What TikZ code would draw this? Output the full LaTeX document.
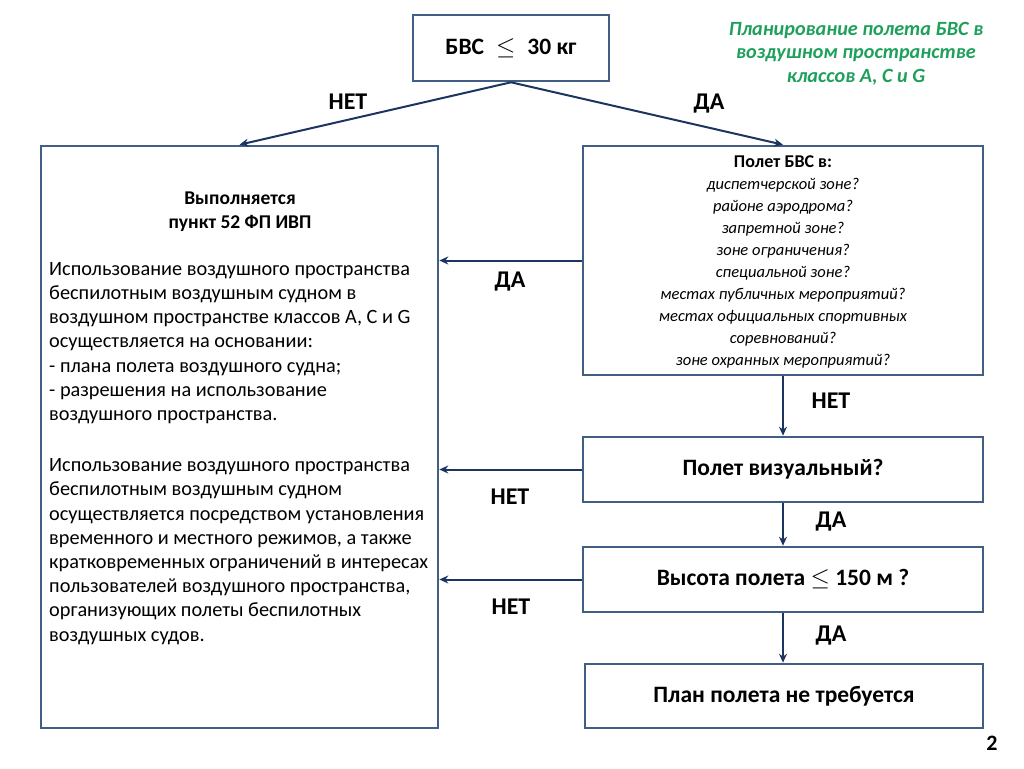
\documentclass[tikz,border=0pt]{standalone}
\usepackage{fontspec}
\setmainfont{Carlito}
\usepackage{tikz}
\usetikzlibrary{arrows.meta}

\definecolor{boxline}{RGB}{66,94,132}
\definecolor{arrowline}{RGB}{28,52,96}
\definecolor{titlegreen}{RGB}{30,160,92}

\newcommand{\bigleq}{{\fontsize{27}{27}\selectfont$\leq$}}

\tikzset{
  box/.style={draw=boxline, line width=2.6pt, fill=white, inner sep=0pt},
  boxfont/.style={font=\fontsize{23.5}{26}\selectfont\bfseries},
  flow/.style={draw=arrowline, line width=2pt, -{Stealth[length=9pt,width=8pt]}},
  answer/.style={font=\fontsize{24}{26}\selectfont\bfseries},
}

\begin{document}
\begin{tikzpicture}[x=1pt,y=-1pt]
\useasboundingbox (0,0) rectangle (1024,768);

% Title
\node[text=titlegreen, align=center, font=\fontsize{20.2}{23.5}\selectfont\bfseries\itshape] (title) at (856,53.5)
  {Планирование полета БВС в\\ воздушном пространстве\\ классов А, С и G};

% Start
\node[box, boxfont, minimum width=196pt, minimum height=66pt] (mass) at (511,48)
  {БВС\hspace*{12pt}\bigleq\hspace*{12pt}30 кг};

% Left box
\node[box, minimum width=397pt, minimum height=582pt] (rule) at (239.5,437) {};
\node[align=center, font=\fontsize{19.5}{24}\selectfont\bfseries] (ruletitle) at (240,212)
  {Выполняется\\ пункт 52 ФП ИВП};
\node[anchor=north west, align=left, inner sep=0pt, font=\fontsize{20.3}{24.2}\selectfont] (ruletext) at (49,262)
  {Использование воздушного пространства\\
   беспилотным воздушным судном в\\
   воздушном пространстве классов А, С и G\\
   осуществляется на основании:\\
   - плана полета воздушного судна;\\
   - разрешения на использование\\
   воздушного пространства.\\[27pt]
   Использование воздушного пространства\\
   беспилотным воздушным судном\\
   осуществляется посредством установления\\
   временного и местного режимов, а также\\
   кратковременных ограничений в интересах\\
   пользователей воздушного пространства,\\
   организующих полеты беспилотных\\
   воздушных судов.};

% Zones
\node[box, minimum width=400pt, minimum height=229pt] (zones) at (783,260.5) {};
\node[align=center, font=\fontsize{16.5}{22}\selectfont] (zonetext) at (783,261.5)
  {{\fontsize{18}{22}\selectfont\bfseries Полет БВС в:}\\ \itshape диспетчерской зоне?\\ \itshape районе аэродрома?\\
   \itshape запретной зоне?\\ \itshape зоне ограничения?\\ \itshape специальной зоне?\\
   \itshape местах публичных мероприятий?\\ \itshape местах официальных спортивных\\
   \itshape соревнований?\\ \itshape зоне охранных мероприятий?};

% Questions
\node[box, boxfont, minimum width=400pt, minimum height=65pt] (visual) at (783,469.5)
  {Полет визуальный?};
\node[box, boxfont, minimum width=400pt, minimum height=65pt] (height) at (783,579.5)
  {Высота полета \bigleq\ 150 м ?};
\node[box, boxfont, minimum width=398pt, minimum height=64pt] (noplan) at (784,696)
  {План полета не требуется};

% Arrows
\draw[flow] (mass.south) -- (rule.north);
\draw[flow] (mass.south) -- (zones.north);
\draw[flow] (zones.west) -- (zones.west -| rule.east);
\draw[flow] (zones.south) -- (visual.north);
\draw[flow] (visual.west) -- (visual.west -| rule.east);
\draw[flow] (visual.south) -- (height.north);
\draw[flow] (height.west) -- (height.west -| rule.east);
\draw[flow] (height.south) -- (height.south |- noplan.north);

% Labels
\node[answer] (no1) at (348,102) {НЕТ};
\node[answer] (yes1) at (709,104) {ДА};
\node[answer] (yes2) at (510,282) {ДА};
\node[answer] (no2) at (831,401) {НЕТ};
\node[answer] (no3) at (510,497) {НЕТ};
\node[answer] (yes3) at (831,522) {ДА};
\node[answer] (no4) at (511,607) {НЕТ};
\node[answer] (yes4) at (831,636) {ДА};

% Page
\node[font=\fontsize{22}{24}\selectfont\bfseries] (page) at (992,743) {2};
\end{tikzpicture}
\end{document}
